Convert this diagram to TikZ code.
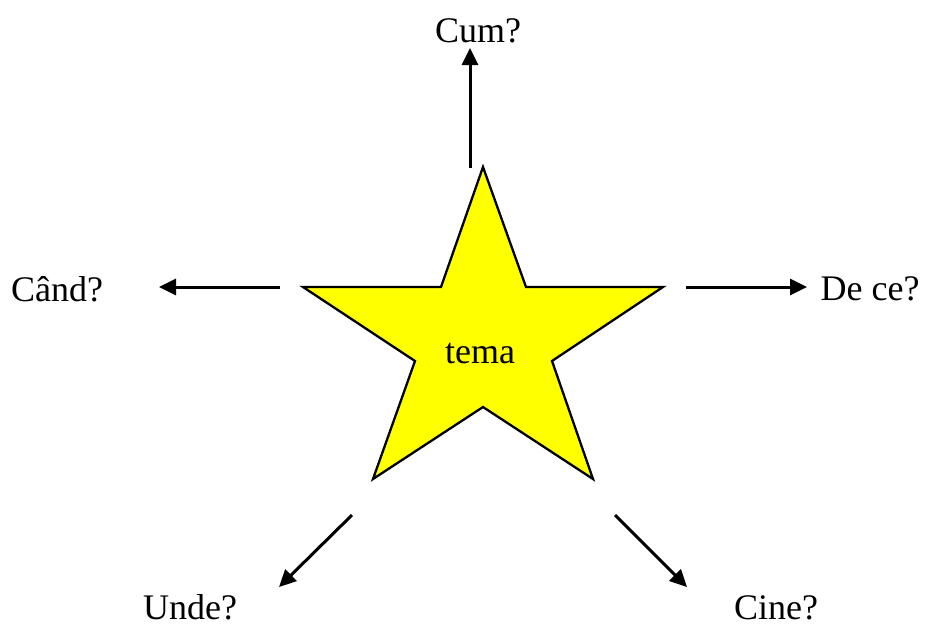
\documentclass[tikz,border=0pt]{standalone}
\usepackage{fontspec}
\setmainfont{Liberation Serif}
\usetikzlibrary{arrows.meta}
\definecolor{StarYellow}{HTML}{FFFF00}
\tikzset{
  ask/.style={-{Triangle[length=17pt,width=16pt]}, line width=3pt, draw=black},
  question/.style={font=\fontsize{36}{42}\selectfont, anchor=base, inner sep=0pt},
  starshape/.style={fill=StarYellow, draw=black, line width=2.3pt, line join=miter},
}

\begin{document}
\begin{tikzpicture}[x=1pt,y=-1pt]
    \useasboundingbox (0,0) rectangle (925,625);
    % the star
    \draw[starshape] (483,167) -- (441,287) -- (303,287) -- (415,361) -- (373,479)
      -- (483,407) -- (593,479) -- (552,361) -- (663,287) -- (526,287) -- cycle;
    \node[question] (tema) at (480,363) {tema};
    % questions
    \node[question] (cum) at (478,42) {Cum?};
    \node[question] (cand) at (57,301) {Când?};
    \node[question] (dece) at (870,300) {De ce?};
    \node[question] (unde) at (190,619) {Unde?};
    \node[question] (cine) at (776,619) {Cine?};
    % arrow ends
    \coordinate (cumfrom) at (470,168);
    \coordinate (cumto) at (470,48);
    \coordinate (candfrom) at (280,287);
    \coordinate (candto) at (159,287);
    \coordinate (decefrom) at (686,287);
    \coordinate (deceto) at (807,287);
    \coordinate (undefrom) at (352,515);
    \coordinate (undeto) at (279,587);
    \coordinate (cinefrom) at (615,515);
    \coordinate (cineto) at (687,587);
    \draw[ask] (cumfrom) -- (cumto);
    \draw[ask] (candfrom) -- (candto);
    \draw[ask] (decefrom) -- (deceto);
    \draw[ask] (undefrom) -- (undeto);
    \draw[ask] (cinefrom) -- (cineto);
  \end{tikzpicture}
\end{document}
